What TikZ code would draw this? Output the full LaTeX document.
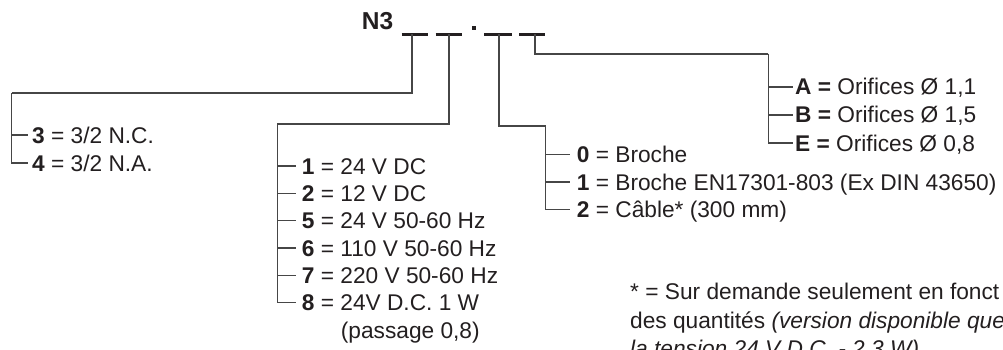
\documentclass[tikz,border=0pt]{standalone}
\usepackage{fontspec}
\setmainfont{Liberation Sans}
\definecolor{ink}{RGB}{35,31,32}
\definecolor{wire}{RGB}{70,70,70}
\begin{document}
\begin{tikzpicture}[x=1pt,y=-1pt,
  lbl/.style={anchor=base west,inner sep=0pt,text=ink,font=\fontsize{22.7}{27}\selectfont},
  conn/.style={draw=wire,line width=1.1pt},
  blank/.style={draw=ink,line width=2.6pt}]
\useasboundingbox (0,0) rectangle (1003,350);
\clip (0,0) rectangle (1003,350);
% code
\node[anchor=base,inner sep=0pt,text=ink,font=\fontsize{24.5}{29}\selectfont\bfseries] (code) at (377.5,30) {N3};
\draw[blank] (401.7,34.3) -- (428.3,34.3);
\draw[blank] (435.7,34.3) -- (462,34.3);
\draw[blank] (484,34.3) -- (511.7,34.3);
\draw[blank] (519,34.3) -- (545,34.3);
\fill[ink] (472.3,25.8) rectangle (475.7,29.6);
\coordinate (b1) at (412,34.3);
\coordinate (b2) at (449,34.3);
\coordinate (b3) at (499,34.3);
\coordinate (b4) at (535,34.3);
\coordinate (k1) at (11.5,93);
\coordinate (k2) at (277.3,124);
\coordinate (k3) at (545.7,126);
\coordinate (k4) at (768.3,54);
% group 1
\node[lbl] (g13) at (32,143) {\textbf{3} = 3/2 N.C.};
\node[lbl] (g14) at (32,171) {\textbf{4} = 3/2 N.A.};
\draw[conn] (b1) |- (k1);
\foreach \n in {g13,g14} \draw[conn] (k1) |- ([xshift=-4pt,yshift=8pt]\n.base west);
% group 2
\node[lbl] (g21) at (301.7,174) {\textbf{1} = 24 V DC};
\node[lbl] (g22) at (301.7,201.3) {\textbf{2} = 12 V DC};
\node[lbl] (g25) at (301.7,228.7) {\textbf{5} = 24 V 50-60 Hz};
\node[lbl] (g26) at (301.7,256) {\textbf{6} = 110 V 50-60 Hz};
\node[lbl] (g27) at (301.7,283.3) {\textbf{7} = 220 V 50-60 Hz};
\node[lbl] (g28) at (301.7,310.7) {\textbf{8} = 24V D.C. 1 W};
\node[lbl] (g2p) at (340.7,338) {(passage 0,8)};
\draw[conn] (b2) |- (k2);
\foreach \n in {g21,g22,g25,g26,g27,g28} \draw[conn] (k2) |- ([xshift=-5.7pt,yshift=8pt]\n.base west);
% group 3
\node[lbl] (g30) at (576.7,162.5) {\textbf{0} = Broche};
\node[lbl] (g31) at (576.7,190) {\textbf{1} = Broche EN17301-803 (Ex DIN 43650)};
\node[lbl] (g32) at (576.7,217.5) {\textbf{2} = Câble* (300 mm)};
\draw[conn] (b3) |- (k3);
\foreach \n in {g30,g31,g32} \draw[conn] (k3) |- ([xshift=-6.7pt,yshift=8pt]\n.base west);
% group 4
\node[lbl] (g4a) at (795,95) {\textbf{A =} Orifices Ø 1,1};
\node[lbl] (g4b) at (795,123) {\textbf{B =} Orifices Ø 1,5};
\node[lbl] (g4e) at (795,151) {\textbf{E =} Orifices Ø 0,8};
\draw[conn] (b4) |- (k4);
\foreach \n in {g4a,g4b,g4e} \draw[conn] (k4) |- ([xshift=-2pt,yshift=8pt]\n.base west);
% footnote
\node[lbl] (f1) at (630,299.7) {* = Sur demande seulement en fonct};
\node[lbl] (f2) at (630,328) {des quantités \textit{(version disponible que}};
\node[lbl] (f3) at (630,356) {\textit{la tension 24 V D.C. - 2,3 W)}};
\end{tikzpicture}
\end{document}
